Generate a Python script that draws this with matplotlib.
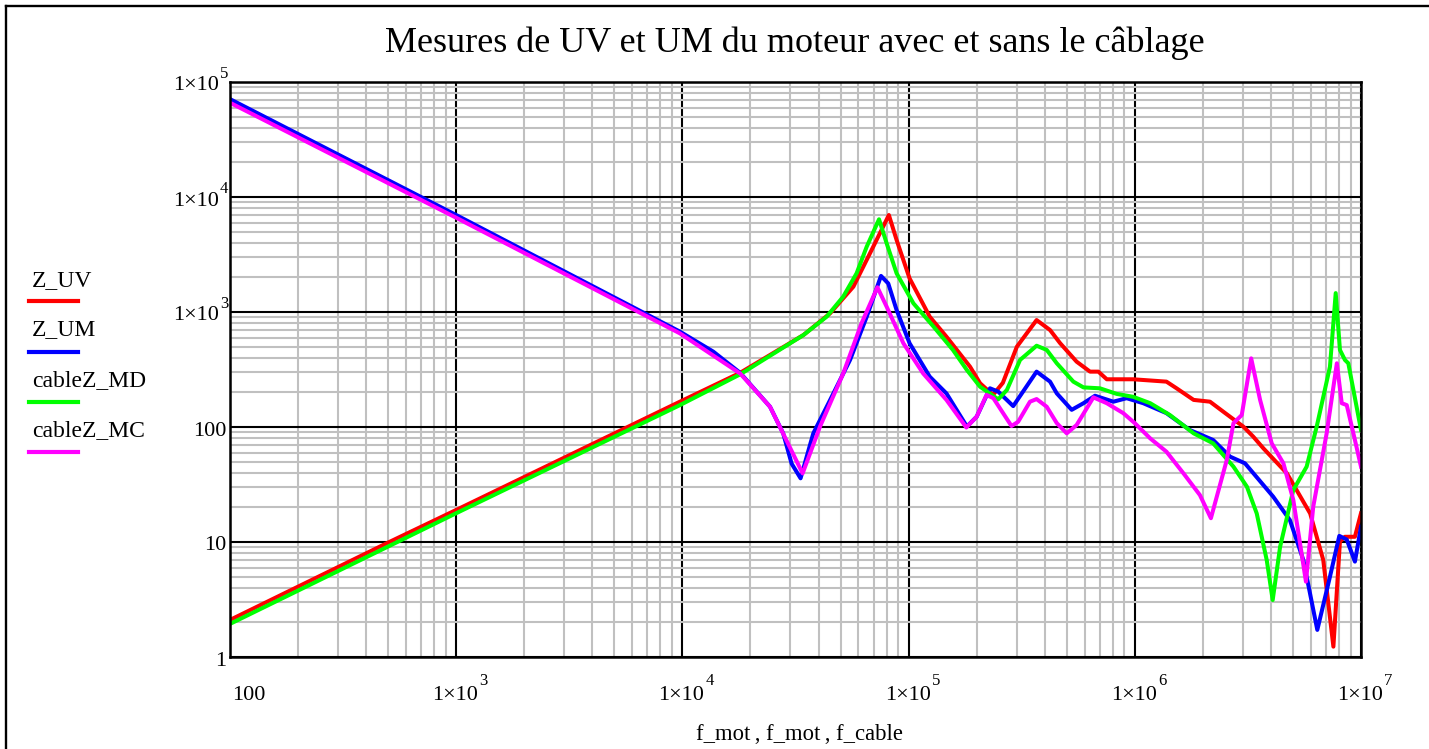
import matplotlib
matplotlib.use("Agg")
import matplotlib.pyplot as plt
import matplotlib.transforms as mtransforms
from matplotlib.lines import Line2D
from matplotlib.ticker import FixedLocator, LogLocator, NullFormatter

plt.rcParams['font.family'] = ['Liberation Serif', 'DejaVu Serif']

# ---------------- text ----------------
title = "Mesures de UV et UM du moteur avec et sans le câblage"
xlabel = "f_mot\u2009, f_mot\u2009, f_cable"
series_names = ["Z_UV", "Z_UM", "cableZ_MD", "cableZ_MC"]
series_colors = ["#ff0000", "#0000ff", "#00ff00", "#ff00ff"]

# ---------------- data ----------------
f_uv = [100, 506, 1000, 9750, 18000, 34300, 45000, 57000, 69800, 81800, 88500,
        101000, 124000, 147000, 187000, 207000, 236000, 261000, 301000, 368000,
        422000, 467000, 553000, 634000, 690000, 752000, 984000, 1.38e6, 1.53e6,
        1.82e6, 2.15e6, 2.46e6, 3.02e6, 3.34e6, 3.70e6, 4.70e6, 5.96e6, 6.81e6,
        7.55e6, 8.07e6, 8.49e6, 9.40e6, 1.0e7]
z_uv = [2.1, 10, 19, 166, 296, 631, 975, 1660, 3700, 6970, 4230,
        1960, 910, 610, 334, 240, 190, 242, 499, 851,
        697, 537, 370, 303, 303, 260, 260, 248, 217,
        172, 166, 136, 100.7, 82.4, 65.3, 39.6, 17.7, 6.97,
        1.23, 10.1, 11.1, 11.1, 17.8]

f_um = [100, 1000, 9750, 13700, 18000, 24400, 27900, 30400, 33300, 37900, 45000,
        55100, 65300, 75500, 81300, 88500, 101000, 124000, 147000, 181000, 200000,
        229000, 249000, 290000, 368000, 422000, 452000, 526000, 593000, 667000,
        804000, 920000, 1.09e6, 1.38e6, 1.75e6, 2.22e6, 2.64e6, 3.07e6, 4.09e6,
        4.85e6, 5.56e6, 6.41e6, 7.29e6, 8.02e6, 8.65e6, 9.40e6, 1.0e7]
z_um = [71000, 6970, 675, 452, 296, 150, 88, 48, 35.8, 88, 172,
        383, 910, 2060, 1770, 1040, 535, 274, 196, 101, 123,
        217, 203, 152, 303, 248, 196, 141, 161, 187,
        166, 178, 161, 132, 94.2, 77.1, 55.2, 48.3, 24.8,
        15.5, 6.97, 1.72, 4.99, 11.3, 10.5, 6.75, 13.6]

f_md = [100, 1000, 9750, 18000, 34300, 43400, 51400, 58900, 65300, 74000, 80000,
        88500, 105000, 129000, 157000, 181000, 207000, 249000, 272000, 311000,
        368000, 408000, 452000, 535000, 593000, 701000, 832000, 984000, 1.17e6,
        1.43e6, 1.82e6, 2.22e6, 2.73e6, 3.13e6, 3.46e6, 3.83e6, 4.07e6, 4.39e6,
        5.02e6, 5.75e6, 6.37e6, 7.29e6, 7.73e6, 8.07e6, 8.49e6, 8.79e6, 1.0e7]
z_md = [1.94, 17.8, 155, 287, 631, 910, 1360, 2170, 3700, 6400, 3950,
        2170, 1190, 745, 468, 313, 224, 174, 210, 383,
        509, 468, 358, 248, 221, 217, 194, 183, 161,
        127, 88.1, 72.1, 45.2, 30.3, 17.7, 6.97, 3.13, 9.1,
        28.3, 45.2, 100.7, 334, 1460, 468, 383, 358, 94.2]

f_mc = [100, 1000, 9750, 18000, 24400, 28800, 34000, 40600, 51400, 61900, 72800,
        80000, 94800, 116000, 147000, 180000, 200000, 221000, 237000, 285000,
        305000, 344000, 368000, 408000, 452000, 500000, 553000, 656000, 752000,
        889000, 1.0e6, 1.17e6, 1.38e6, 1.64e6, 1.94e6, 2.17e6, 2.55e6, 2.73e6,
        2.97e6, 3.27e6, 3.58e6, 4.03e6, 4.54e6, 5.02e6, 5.71e6, 6.15e6, 7.05e6,
        7.82e6, 8.22e6, 8.65e6, 9.40e6, 1.0e7]
z_mc = [66000, 6600, 652, 292, 150, 77, 39.5, 101, 292, 796, 1640,
        1110, 535, 292, 172, 99, 123, 190, 178, 102,
        111, 166, 175, 150, 108, 88.1, 104, 181, 161,
        132, 108, 79.6, 61, 39.6, 25.6, 16.1, 51.6, 108,
        127, 395, 172, 72.1, 48.3, 23.2, 4.52, 20.3, 88.1,
        358, 161, 155, 77.1, 45.2]

# tick labels: (mantissa text, exponent text or None)
x_ticks = [1e2, 1e3, 1e4, 1e5, 1e6, 1e7]
x_tick_labels = [("100", None), ("1×10", "3"), ("1×10", "4"),
                 ("1×10", "5"), ("1×10", "6"), ("1×10", "7")]
y_ticks = [1, 10, 100, 1e3, 1e4, 1e5]
y_tick_labels = [("1", None), ("10", None), ("100", None),
                 ("1×10", "3"), ("1×10", "4"), ("1×10", "5")]

# ---------------- figure ----------------
W, H = 1429, 749
fig = plt.figure(figsize=(W / 100, H / 100), dpi=100)
ax_l, ax_r, ax_t, ax_b = 230, 1361, 82, 657
ax = fig.add_axes([ax_l / W, 1 - ax_b / H, (ax_r - ax_l) / W, (ax_b - ax_t) / H])

series = [(f_uv, z_uv), (f_um, z_um), (f_md, z_md), (f_mc, z_mc)]
for (fx, zy), name, col in zip(series, series_names, series_colors):
    ax.plot(fx, zy, color=col, lw=2.9, solid_joinstyle='round', zorder=5, label=name)

ax.set_xscale('log')
ax.set_yscale('log')
ax.set_xlim(1e2, 1e7)
ax.set_ylim(1, 1e5)

ax.xaxis.set_major_locator(FixedLocator(x_ticks))
ax.yaxis.set_major_locator(FixedLocator(y_ticks))
for axis in (ax.xaxis, ax.yaxis):
    axis.set_minor_locator(LogLocator(base=10, subs=range(2, 10), numticks=50))
    axis.set_minor_formatter(NullFormatter())

ax.grid(which='minor', color='#c0c0c0', lw=1.5, zorder=1)
ax.grid(which='major', color='black', lw=1.5, zorder=2)
ax.set_axisbelow(True)
ax.tick_params(which='both', length=0, labelbottom=False, labelleft=False)
for sp in ax.spines.values():
    sp.set_linewidth(1.8)
    sp.set_zorder(6)

TICK_FS = 16
SUP_FS = 12


def px(dx, dy):
    return mtransforms.ScaledTranslation(dx / 100, -dy / 100, fig.dpi_scale_trans)


# y tick labels
ytr = ax.get_yaxis_transform()
for v, (mant, ex) in zip(y_ticks, y_tick_labels):
    if ex is None:
        ax.text(0, v, mant, transform=ytr + px(-4, 4), ha='right', va='center',
                fontsize=TICK_FS, clip_on=False)
    else:
        ax.text(0, v, ex, transform=ytr + px(-2, -8), ha='right', va='center',
                fontsize=SUP_FS, clip_on=False)
        ax.text(0, v, mant, transform=ytr + px(-11, 4), ha='right', va='center',
                fontsize=TICK_FS, clip_on=False)

# x tick labels
xtr = ax.get_xaxis_transform()
for v, (mant, ex) in zip(x_ticks, x_tick_labels):
    if ex is None:
        ax.text(v, 0, mant, transform=xtr + px(2, 38), ha='left', va='center',
                fontsize=TICK_FS, clip_on=False)
    else:
        ax.text(v, 0, mant, transform=xtr + px(-1, 38), ha='center', va='center',
                fontsize=TICK_FS, clip_on=False)
        ax.text(v, 0, ex, transform=xtr + px(23, 24), ha='left', va='center',
                fontsize=SUP_FS, clip_on=False)

fig.text(795 / W, 1 - 43 / H, title, ha='center', va='center', fontsize=26)
fig.text(799 / W, 1 - 735 / H, xlabel, ha='center', va='center', fontsize=16.3)

# legend on the left
leg_text_y = [281, 330, 381, 431]
leg_line_y = [301.5, 351.5, 401.5, 451.5]
for name, col, ty, ly in zip(series_names, series_colors, leg_text_y, leg_line_y):
    fig.text(32 / W, 1 - ty / H, name, ha='left', va='center', fontsize=17)
    fig.add_artist(Line2D([29 / W, 78 / W], [1 - ly / H, 1 - ly / H],
                          transform=fig.transFigure, color=col, lw=3))

# outer frame (left and top edges visible)
fig.add_artist(Line2D([6 / W, 6 / W], [0, 1 - 6 / H], transform=fig.transFigure,
                      color='black', lw=1.7))
fig.add_artist(Line2D([6 / W, 1], [1 - 6 / H, 1 - 6 / H], transform=fig.transFigure,
                      color='black', lw=1.7))

fig.savefig("out.png", dpi=100)
